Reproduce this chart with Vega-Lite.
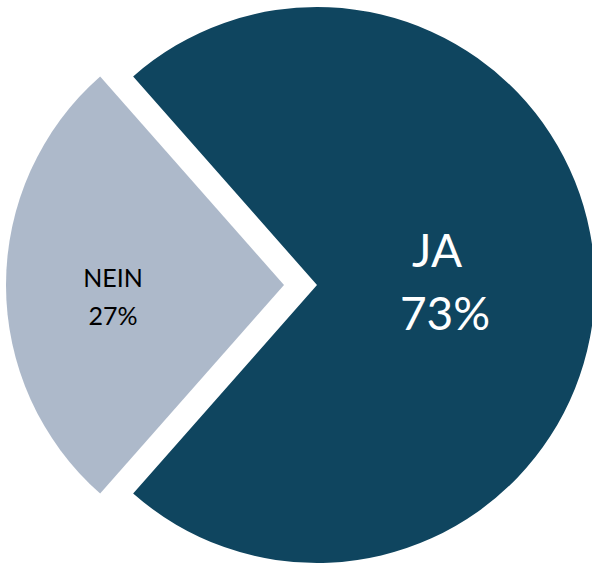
{
  "$schema": "https://vega.github.io/schema/vega-lite/v6.json",
  "width": 592,
  "height": 565,
  "autosize": {"type": "fit", "contains": "padding"},
  "padding": 0,
  "background": "white",
  "view": {"stroke": null},
  "data": {
    "values": [
      {"category": "NEIN", "value": 27, "label": "27%"},
      {"category": "JA", "value": 73, "label": "73%"}
    ]
  },
  "resolve": {"scale": {"theta": "independent"}},
  "layer": [
    {
      "transform": [{"filter": "datum.category === 'JA'"}],
      "mark": {"type": "arc", "radius": 278, "xOffset": 24, "yOffset": 2.5, "color": "#0f455f"},
      "encoding": {
        "theta": {"field": "value", "type": "quantitative", "stack": true, "scale": {"domain": [0, 73], "range": [5.560619, 10.147344]}}
      }
    },
    {
      "transform": [{"filter": "datum.category === 'NEIN'"}],
      "mark": {"type": "arc", "radius": 278, "xOffset": -9, "yOffset": 2.5, "color": "#adb9ca"},
      "encoding": {
        "theta": {"field": "value", "type": "quantitative", "stack": true, "scale": {"domain": [0, 27], "range": [3.864159, 5.560619]}}
      }
    },
    {
      "transform": [{"filter": "datum.category === 'JA'"}],
      "mark": {"type": "text", "radius": 124, "xOffset": 24, "yOffset": 2.5, "dx": -4, "dy": -18, "baseline": "alphabetic", "align": "center", "font": "Lato", "fontSize": 46, "color": "white"},
      "encoding": {
        "theta": {"field": "value", "type": "quantitative", "stack": true, "scale": {"domain": [0, 73], "range": [5.560619, 10.147344]}},
        "text": {"field": "category"}
      }
    },
    {
      "transform": [{"filter": "datum.category === 'JA'"}],
      "mark": {"type": "text", "radius": 124, "xOffset": 24, "yOffset": 2.5, "dx": 4, "dy": 45, "baseline": "alphabetic", "align": "center", "font": "Lato", "fontSize": 46, "color": "white"},
      "encoding": {
        "theta": {"field": "value", "type": "quantitative", "stack": true, "scale": {"domain": [0, 73], "range": [5.560619, 10.147344]}},
        "text": {"field": "label"}
      }
    },
    {
      "transform": [{"filter": "datum.category === 'NEIN'"}],
      "mark": {"type": "text", "radius": 171, "xOffset": -9, "yOffset": 2.5, "dy": 2, "baseline": "alphabetic", "align": "center", "font": "Lato", "fontSize": 25, "color": "black"},
      "encoding": {
        "theta": {"field": "value", "type": "quantitative", "stack": true, "scale": {"domain": [0, 27], "range": [3.864159, 5.560619]}},
        "text": {"field": "category"}
      }
    },
    {
      "transform": [{"filter": "datum.category === 'NEIN'"}],
      "mark": {"type": "text", "radius": 171, "xOffset": -9, "yOffset": 2.5, "dy": 40, "baseline": "alphabetic", "align": "center", "font": "Lato", "fontSize": 25, "color": "black"},
      "encoding": {
        "theta": {"field": "value", "type": "quantitative", "stack": true, "scale": {"domain": [0, 27], "range": [3.864159, 5.560619]}},
        "text": {"field": "label"}
      }
    }
  ]
}
